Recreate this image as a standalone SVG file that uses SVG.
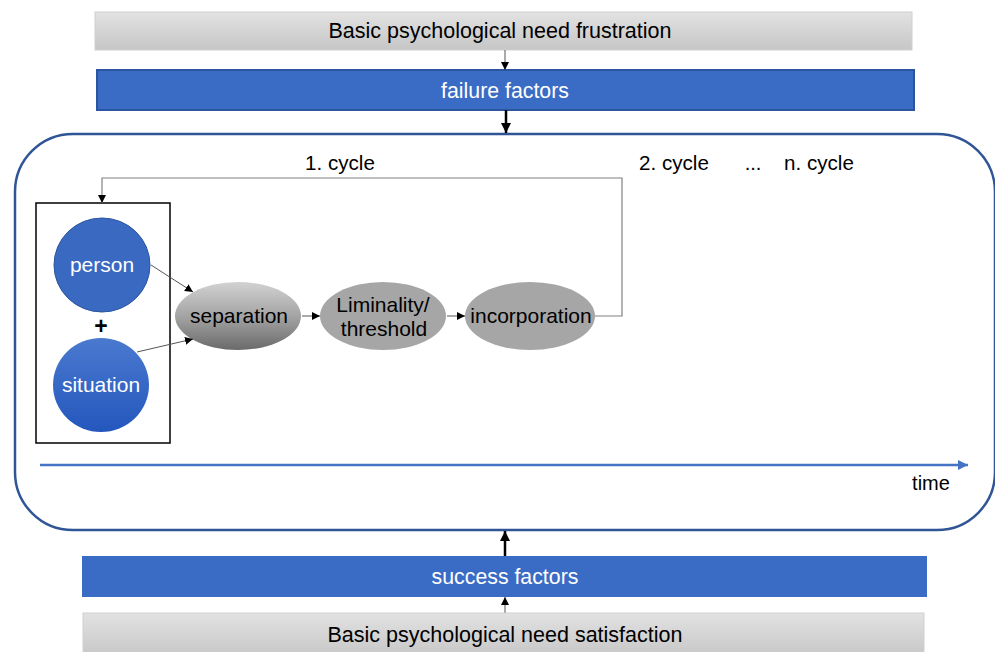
<svg xmlns="http://www.w3.org/2000/svg" width="995" height="652" viewBox="0 0 995 652">
<defs>
<linearGradient id="grayBar" x1="0" y1="0" x2="0" y2="1">
<stop offset="0" stop-color="#e2e2e2"/><stop offset="1" stop-color="#c6c6c6"/>
</linearGradient>
<linearGradient id="blueBall" x1="0" y1="0" x2="0" y2="1">
<stop offset="0" stop-color="#4a79cf"/><stop offset="1" stop-color="#2457bd"/>
</linearGradient>
<linearGradient id="sepGrad" x1="0" y1="0" x2="0" y2="1">
<stop offset="0" stop-color="#d2d2d2"/><stop offset="0.5" stop-color="#a4a4a4"/><stop offset="1" stop-color="#6a6a6a"/>
</linearGradient>
<marker id="ah" viewBox="0 0 10 10" refX="10" refY="5" markerWidth="8" markerHeight="8" markerUnits="userSpaceOnUse" orient="auto">
<path d="M0,0 L10,5 L0,10 z" fill="#000"/>
</marker>
<marker id="ahBig" viewBox="0 0 10 10" refX="10" refY="5" markerWidth="10" markerHeight="10" markerUnits="userSpaceOnUse" orient="auto">
<path d="M0,0 L10,5 L0,10 z" fill="#000"/>
</marker>
<marker id="ahBlue" viewBox="0 0 10 10" refX="10" refY="5" markerWidth="10" markerHeight="10" markerUnits="userSpaceOnUse" orient="auto">
<path d="M0,0 L10,5 L0,10 z" fill="#4472c4"/>
</marker>
</defs>
<style>
text{font-family:"Liberation Sans",Arial,sans-serif;text-anchor:middle}
.dark{fill:#000;font-size:20px}
.bartext{fill:#000;font-size:21.5px}
.white{fill:#fff;font-size:21.3px}
.node{fill:#000;font-size:21px}
.wnode{fill:#fff;font-size:21px}
.bar{fill:url(#grayBar);stroke:#d0d0d0;stroke-width:1}
.bluebar{fill:#3b6cc5;stroke:#2c559f;stroke-width:2}
.thin{stroke:#555;stroke-width:1;fill:none}
.thick{stroke:#000;stroke-width:2.5;fill:none}
</style>
<g id="frustration"><rect class="bar" x="95" y="12" width="817" height="38"/><text class="bartext" x="500" y="38">Basic psychological need frustration</text></g>
<g id="failure"><rect class="bluebar" x="97" y="70" width="817" height="40"/><text class="white" x="505" y="98">failure factors</text></g>
<g id="process"><rect x="15" y="134" width="980" height="396" rx="58" ry="58" fill="#fff" stroke="#2f5597" stroke-width="2.5"/>
<text class="dark" x="340" y="170" style="font-size:20.6px">1. cycle</text>
<text class="dark" x="674" y="170" style="font-size:20.6px">2. cycle</text>
<text class="dark" x="753" y="170">...</text>
<text class="dark" x="819" y="170" style="font-size:20.6px">n. cycle</text>
<text class="dark" x="931" y="490">time</text>
</g>
<g id="personSituation"><rect x="36" y="203" width="134" height="240" fill="none" stroke="#000" stroke-width="1.5"/>
<text class="dark" x="101" y="334" style="font-size:23px;font-weight:bold">+</text></g>
<g id="person"><ellipse cx="102" cy="265" rx="48" ry="47" fill="#3a69c2" stroke="#2c559f" stroke-width="1"/><text class="wnode" x="102" y="272">person</text></g>
<g id="situation"><ellipse cx="101" cy="385" rx="48" ry="47" fill="url(#blueBall)"/><text class="wnode" x="101" y="392">situation</text></g>
<g id="separation"><ellipse cx="238" cy="316" rx="63" ry="34" fill="url(#sepGrad)"/><text class="node" x="239" y="323">separation</text></g>
<g id="liminality"><ellipse cx="383" cy="316" rx="63" ry="34" fill="#a6a6a6"/><text class="node" x="383" y="312">Liminality/</text><text class="node" x="384" y="336">threshold</text></g>
<g id="incorporation"><ellipse cx="530" cy="316" rx="65" ry="34" fill="#a6a6a6"/><text class="node" x="531" y="323">incorporation</text></g>
<g id="connectors">
<line class="thin" x1="505" y1="50" x2="505" y2="70" marker-end="url(#ah)"/>
<line class="thick" x1="506" y1="110" x2="506" y2="133" marker-end="url(#ahBig)"/>
<line class="thick" x1="505" y1="557" x2="505" y2="531" marker-end="url(#ahBig)"/>
<line class="thin" x1="505" y1="613" x2="505" y2="597" marker-end="url(#ah)"/>
<line class="thin" x1="151" y1="265" x2="193" y2="292" marker-end="url(#ah)"/>
<line class="thin" x1="137" y1="352" x2="193" y2="339" marker-end="url(#ah)"/>
<line class="thin" x1="302" y1="316" x2="320" y2="316" marker-end="url(#ah)"/>
<line class="thin" x1="447" y1="316" x2="465" y2="316" marker-end="url(#ah)"/>
<polyline points="595,316 622,316 622,178 102,178 102,203" fill="none" stroke="#808080" stroke-width="1.2" marker-end="url(#ah)"/>
<line x1="40" y1="465" x2="968" y2="465" stroke="#4472c4" stroke-width="2.5" marker-end="url(#ahBlue)"/>
</g>
<g id="success"><rect class="bluebar" x="83" y="557" width="843" height="39" style="stroke:#3b6cc5"/><text class="white" x="505" y="584">success factors</text></g>
<g id="satisfaction"><rect class="bar" x="83" y="613" width="841" height="45"/><text class="bartext" x="505" y="642">Basic psychological need satisfaction</text></g>
</svg>
